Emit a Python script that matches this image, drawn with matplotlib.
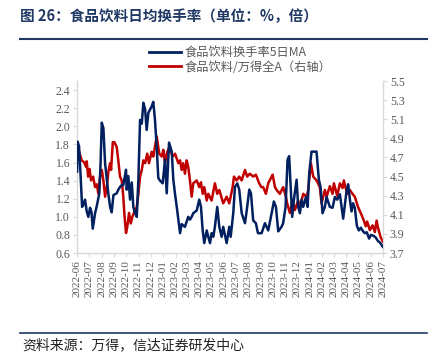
import matplotlib
matplotlib.use("Agg")
import matplotlib.pyplot as plt
from matplotlib.lines import Line2D
import pandas as pd
import numpy as np

plt.rcParams['font.family'] = ['Noto Sans CJK SC', 'DejaVu Sans']

# months elapsed since 2022-06-01 for each observation, and values
turnover_t = [0.00, 0.04, 0.16, 0.29, 0.41, 0.53, 0.65, 0.79, 0.92, 1.06, 1.18, 1.28, 1.47, 1.61, 1.82,
              1.92, 2.02, 2.15, 2.29, 2.43, 2.56, 2.70, 2.83, 2.97, 3.24, 3.37, 3.51, 3.65, 3.78, 4.00,
              4.06, 4.19, 4.33, 4.47, 4.60, 4.74, 4.88, 5.01, 5.15, 5.29, 5.42, 5.56, 5.69, 5.83, 6.10,
              6.23, 6.37, 6.51, 6.64, 6.78, 7.00, 7.19, 7.33, 7.52, 7.74, 7.87, 8.01, 8.15, 8.42, 8.55,
              8.82, 9.09, 9.23, 9.37, 9.50, 9.78, 9.99, 10.13, 10.27, 10.40, 10.60, 10.73, 10.87, 11.00,
              11.14, 11.27, 11.46, 11.63, 11.82, 11.95, 12.23, 12.44, 12.56, 12.77, 12.91, 13.10, 13.26,
              13.46, 13.73, 13.91, 14.08, 14.22, 14.40, 14.62, 14.79, 15.09, 15.36, 15.63, 15.91, 16.09,
              16.26, 16.45, 16.72, 16.85, 17.05, 17.21, 17.34, 17.48, 17.59, 17.73, 17.95, 18.08, 18.22,
              18.36, 18.49, 18.71, 18.85, 18.98, 19.17, 19.36, 19.58, 19.77, 19.91, 20.07, 20.26, 20.40,
              20.67, 20.89, 21.08, 21.27, 21.49, 21.76, 22.03, 22.17, 22.30, 22.44, 22.57, 22.71, 22.88,
              23.04, 23.20, 23.39, 23.53, 23.69, 23.88, 24.02, 24.26, 24.43, 24.62, 24.75, 25.00]
turnover_ma5 = [1.50, 1.83, 1.78, 1.45, 1.11, 1.14, 1.19, 1.06, 1.00, 1.10, 1.05, 0.87, 1.04, 1.12, 1.26,
                1.60, 2.04, 1.98, 1.59, 1.41, 1.25, 1.11, 1.05, 1.24, 1.26, 1.30, 1.33, 1.35, 1.35, 1.52,
                1.30, 1.45, 1.19, 1.38, 1.11, 1.04, 1.00, 1.41, 2.07, 2.03, 2.26, 2.19, 1.96, 2.15, 2.22,
                2.27, 2.07, 1.77, 1.43, 1.40, 1.37, 1.63, 1.26, 1.82, 1.72, 1.41, 1.25, 1.11, 0.82, 0.92,
                0.89, 1.00, 0.97, 1.00, 1.04, 1.07, 1.19, 1.11, 0.85, 0.71, 0.85, 0.78, 0.71, 0.82,
                0.78, 0.89, 1.11, 0.89, 0.78, 0.89, 0.71, 0.89, 0.78, 1.04, 1.33, 1.37, 1.30,
                1.04, 0.93, 1.11, 1.30, 1.26, 0.96, 0.93, 0.82, 0.82, 0.93, 0.85, 1.04, 1.17,
                1.11, 0.84, 0.89, 0.93, 1.11, 1.63, 1.67, 1.30, 1.00, 1.19, 1.41, 1.11, 1.04,
                1.19, 1.11, 1.22, 1.11, 1.48, 1.72, 1.72, 1.72, 1.41, 1.33, 1.04, 1.11, 1.22,
                1.11, 1.10, 1.22, 1.19, 1.25, 0.98, 1.28, 1.36, 1.20, 1.06, 1.15, 1.10, 0.90,
                0.85, 0.88, 0.84, 0.82, 0.83, 0.76, 0.80, 0.79, 0.77, 0.73, 0.72, 0.67]

relative_t = [0.00, 0.16, 0.38, 0.57, 0.74, 0.79, 0.90, 1.02, 1.14, 1.31, 1.47, 1.61, 1.74, 1.88, 2.02,
              2.15, 2.29, 2.43, 2.56, 2.70, 2.78, 2.92, 3.05, 3.24, 3.37, 3.51, 3.65, 3.78, 3.86, 4.00,
              4.11, 4.25, 4.39, 4.52, 4.74, 4.88, 5.01, 5.15, 5.29, 5.42, 5.56, 5.74, 5.88, 6.10, 6.23,
              6.51, 6.72, 6.92, 7.05, 7.19, 7.33, 7.54, 7.82, 8.01, 8.28, 8.42, 8.55, 8.68, 8.82, 8.96,
              9.09, 9.23, 9.37, 9.50, 9.78, 9.99, 10.13, 10.27, 10.40, 10.60, 10.73, 11.00, 11.27, 11.46,
              11.63, 11.95, 12.23, 12.44, 12.56, 12.72, 12.83, 13.05, 13.26, 13.46, 13.73, 13.91, 14.13,
              14.40, 14.62, 14.89, 15.07, 15.22, 15.44, 15.63, 15.99, 16.18, 16.32, 16.58, 16.85, 17.07,
              17.18, 17.40, 17.62, 17.81, 18.08, 18.22, 18.49, 18.77, 18.90, 19.12, 19.31, 19.58, 19.85,
              19.99, 20.26, 20.40, 20.67, 20.89, 21.00, 21.27, 21.49, 21.71, 21.81, 22.08, 22.30, 22.52,
              22.71, 22.98, 23.26, 23.45, 23.61, 23.72, 23.94, 24.16, 24.35, 24.49, 24.62, 24.81, 25.00]
relative_pe = [4.85, 4.76, 4.67, 4.65, 4.60, 4.66, 4.50, 4.58, 4.46, 4.50, 4.39, 4.42, 4.32, 4.50, 4.57,
               4.46, 4.29, 4.39, 4.55, 4.64, 4.57, 4.86, 4.86, 4.81, 4.67, 4.50, 4.46, 4.29, 4.12, 3.91,
               3.98, 4.12, 4.01, 4.08, 4.15, 4.18, 4.32, 4.50, 4.57, 4.67, 4.64, 4.74, 4.64, 4.76, 4.71,
               4.92, 4.74, 4.71, 4.78, 4.64, 4.74, 4.81, 4.71, 4.74, 4.64, 4.67, 4.57, 4.64, 4.53, 4.67,
               4.60, 4.46, 4.29, 4.43, 4.46, 4.39, 4.44, 4.32, 4.39, 4.25, 4.32, 4.25, 4.43, 4.32,
               4.36, 4.22, 4.29, 4.22, 4.29, 4.39, 4.50, 4.46, 4.50, 4.46, 4.57, 4.50, 4.53,
               4.50, 4.52, 4.43, 4.39, 4.39, 4.32, 4.43, 4.52, 4.39, 4.36, 4.32, 4.39, 4.29,
               4.22, 4.12, 4.25, 4.15, 4.25, 4.18, 4.32, 4.29, 4.36, 4.64, 4.50, 4.46, 4.39,
               4.22, 4.36, 4.29, 4.40, 4.32, 4.43, 4.30, 4.43, 4.38, 4.46, 4.32, 4.36, 4.32,
               4.29, 4.18, 4.10, 4.04, 3.98, 4.03, 3.94, 3.99, 3.92, 4.04, 3.96, 3.87, 3.82]

month_labels = pd.date_range("2022-06-01", "2024-07-01", freq="MS")

start = pd.Timestamp("2022-06-01")
def to_dates(t):
    return [start + pd.Timedelta(days=float(v) * 30.44) for v in t]

BLUE = "#002060"
RED = "#C00000"
GRID = "#D9D9D9"
TXT = "#595959"

fig = plt.figure(figsize=(4.38, 3.6), dpi=100)
ax = fig.add_axes([0.176, 0.297, 0.698, 0.478])
ax2 = ax.twinx()

ax.plot(to_dates(turnover_t), turnover_ma5, color=BLUE, lw=1.8, zorder=3)
ax2.plot(to_dates(relative_t), relative_pe, color=RED, lw=1.8, zorder=2)
ax.set_zorder(ax2.get_zorder() + 1)
ax.patch.set_visible(False)

ax.set_ylim(0.6, 2.5)
ax.set_yticks(np.arange(0.6, 2.41, 0.2))
ax2.set_ylim(3.7, 5.5)
ax2.set_yticks(np.arange(3.7, 5.51, 0.2))
ax.set_xlim(month_labels[0], month_labels[-1])
ax.set_xticks(month_labels)
ax.set_xticklabels([d.strftime("%Y-%m") for d in month_labels], rotation=90,
                   family="Liberation Serif", fontsize=8, color=TXT)
ax.yaxis.set_major_formatter(matplotlib.ticker.FormatStrFormatter("%.1f"))
ax2.yaxis.set_major_formatter(matplotlib.ticker.FormatStrFormatter("%.1f"))
for a in (ax, ax2):
    for lab in a.get_yticklabels():
        lab.set_family("Liberation Serif")
        lab.set_fontsize(8.5)
        lab.set_color(TXT)
    a.spines['top'].set_visible(False)
    for s in ('left', 'right', 'bottom'):
        a.spines[s].set_color(GRID)
        a.spines[s].set_linewidth(1.0)
    a.tick_params(axis='both', color=GRID, length=3, width=0.8, pad=2)
ax.spines['right'].set_visible(False)
ax2.spines['left'].set_visible(False)
ax2.spines['bottom'].set_visible(False)

# legend
handles = [Line2D([], [], color=BLUE, lw=2), Line2D([], [], color=RED, lw=2)]
fig.legend(handles, ["食品饮料换手率5日MA", "食品饮料/万得全A（右轴）"], loc="upper left",
           bbox_to_anchor=(0.33, 0.885), frameon=False, fontsize=8.8, handlelength=2.6,
           handletextpad=0.3, labelspacing=0.12, labelcolor=TXT, borderaxespad=0)

# title, rules and source
fig.text(0.046, 0.955, "图 26：食品饮料日均换手率（单位：%，倍）", fontsize=10.5, fontweight="bold",
         color="#1F3864", va="center", ha="left")
fig.add_artist(Line2D([0.046, 0.975], [0.893, 0.893], color="#1F3864", lw=1.5))
fig.add_artist(Line2D([0.046, 0.975], [0.075, 0.075], color="#1F3864", lw=1.2))
fig.text(0.05, 0.042, "资料来源：万得，信达证券研发中心", fontsize=10, color="#222222",
         va="center", ha="left", style="italic")

fig.savefig("out.png", dpi=100)
